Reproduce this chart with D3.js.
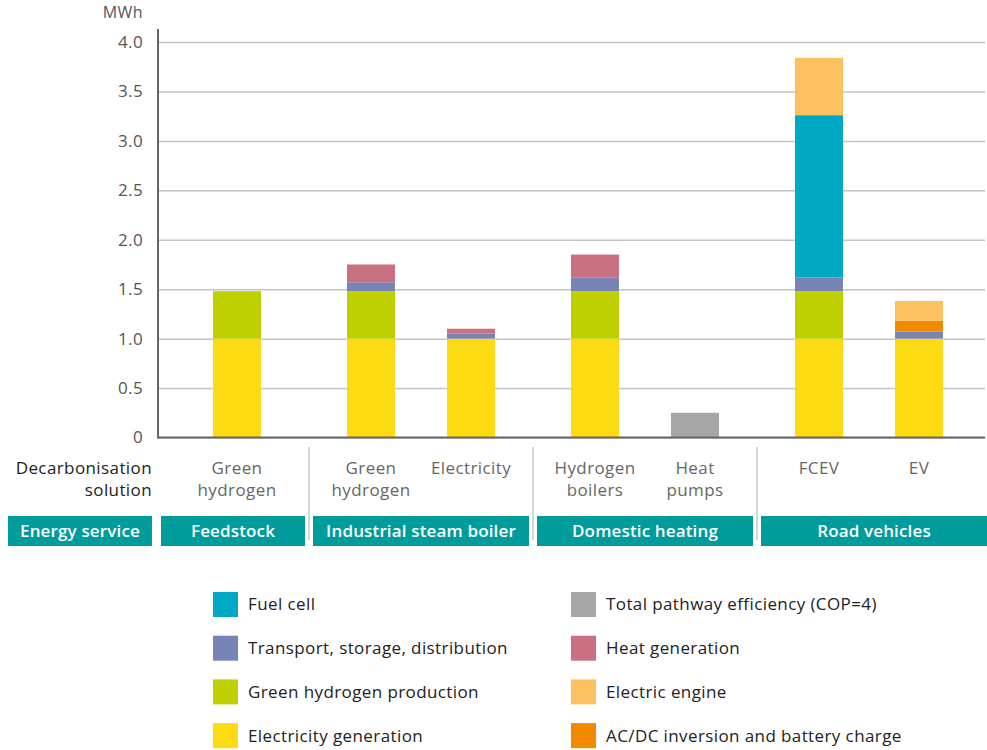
<!DOCTYPE html>
<html>
<head>
<meta charset="utf-8">
<script src="https://cdn.jsdelivr.net/npm/d3@7"></script>
<style>
  body { margin: 0; background: #fff; }
  svg { display: block; font-family: "Open Sans", Lato, sans-serif; }
  svg text { letter-spacing: 0.4px; }
  svg text.box-label { letter-spacing: 0.15px; }
</style>
</head>
<body>
<div id="chart"></div>
<script>
// decarbonisation solutions (one bar each), split onto lines
const solutions = [
  ["Green", "hydrogen"],
  ["Green", "hydrogen"],
  ["Electricity"],
  ["Hydrogen", "boilers"],
  ["Heat", "pumps"],
  ["FCEV"],
  ["EV"]
]
const services = ["Feedstock", "Industrial steam boiler", "Domestic heating", "Road vehicles"]
const serviceOfBar = [0, 1, 1, 2, 2, 3, 3]

// MWh per bar, bottom to top of the stack
const electricityGeneration = [1.0, 1.0, 1.0, 1.0, 0, 1.0, 1.0]
const greenHydrogenProduction = [0.48, 0.48, 0, 0.48, 0, 0.48, 0]
const transportStorage = [0, 0.09, 0.05, 0.14, 0, 0.14, 0.07]
const fuelCell = [0, 0, 0, 0, 0, 1.64, 0]
const acdcInversion = [0, 0, 0, 0, 0, 0, 0.11]
const electricEngine = [0, 0, 0, 0, 0, 0.58, 0.20]
const heatGeneration = [0, 0.18, 0.05, 0.23, 0, 0, 0]
const totalPathway = [0, 0, 0, 0, 0.25, 0, 0]

const yTicks = [0, 0.5, 1.0, 1.5, 2.0, 2.5, 3.0, 3.5, 4.0]

const series = [
  { key: "Electricity generation", values: electricityGeneration, color: "#fddb12" },
  { key: "Green hydrogen production", values: greenHydrogenProduction, color: "#bfd000" },
  { key: "Transport, storage, distribution", values: transportStorage, color: "#7884b6" },
  { key: "Fuel cell", values: fuelCell, color: "#00a9c3" },
  { key: "AC/DC inversion and battery charge", values: acdcInversion, color: "#f28a00" },
  { key: "Electric engine", values: electricEngine, color: "#fcc05f" },
  { key: "Heat generation", values: heatGeneration, color: "#c97180" },
  { key: "Total pathway efficiency (COP=4)", values: totalPathway, color: "#a6a6a6" }
]

const legendLeft = ["Fuel cell", "Transport, storage, distribution", "Green hydrogen production", "Electricity generation"]
const legendRight = ["Total pathway efficiency (COP=4)", "Heat generation", "Electric engine", "AC/DC inversion and battery charge"]

const width = 987, height = 750
const axisX = 158, plotRight = 985
const teal = "#009b9b"
const fontSize = "17px"

const svg = d3.select("#chart").append("svg")
  .attr("width", width)
  .attr("height", height)

const y = d3.scaleLinear().domain([0, 4]).range([437.5, 42])

// group boxes: first column is the row label, then one box per service
const boxes = []
let cursor = 161
services.forEach((s, g) => {
  const bars = d3.range(solutions.length).filter(i => serviceOfBar[i] === g)
  const w = bars.length === 1 ? 144 : bars.length * 100 + 16
  boxes.push({ name: s, x0: cursor, x1: cursor + w, bars })
  cursor += w + 8
})

// bar centres from a point scale per group
const barX = []
boxes.forEach(b => {
  const p = d3.scalePoint().domain(b.bars)
    .range([b.x0 + 8, b.bars.length === 1 ? b.x1 : b.x1 - 8])
    .padding(0.5)
  b.bars.forEach(i => { barX[i] = p(i) })
})
boxes[boxes.length - 1].x1 = width
const barW = 48

// gridlines + ticks
const yAxis = d3.axisLeft(y).tickValues(yTicks)
  .tickSize(-(plotRight - axisX))
  .tickPadding(15)
  .tickFormat(d => d === 0 ? "0" : d3.format(".1f")(d))

const ga = svg.append("g")
  .attr("transform", `translate(${axisX},0)`)
  .call(yAxis)
ga.select(".domain").remove()
ga.selectAll(".tick line").attr("stroke", "#c4c4c4").attr("stroke-width", 1.5)
ga.selectAll(".tick text")
  .attr("fill", "#555")
  .style("font-size", fontSize)
  .style("font-family", "'Open Sans', sans-serif")

svg.append("text")
  .attr("x", 143).attr("y", 18)
  .attr("text-anchor", "end")
  .attr("fill", "#555")
  .style("font-size", "16px")
  .text("MWh")

// stacked bars
const table = solutions.map((s, i) => {
  const row = { i }
  series.forEach(se => { row[se.key] = se.values[i] })
  return row
})
const stacked = d3.stack().keys(series.map(s => s.key))(table)
const colorOf = {}
series.forEach(s => { colorOf[s.key] = s.color })

svg.append("g").selectAll("g")
  .data(stacked)
  .join("g")
    .attr("fill", d => colorOf[d.key])
  .selectAll("rect")
  .data(d => d.filter(p => p[1] - p[0] > 0))
  .join("rect")
    .attr("x", d => barX[d.data.i] - barW / 2)
    .attr("width", barW)
    .attr("y", d => y(d[1]))
    .attr("height", d => y(d[0]) - y(d[1]))

// axes lines
svg.append("line")
  .attr("x1", axisX).attr("x2", axisX)
  .attr("y1", 29).attr("y2", y(0) + 1)
  .attr("stroke", "#666").attr("stroke-width", 2)
svg.append("line")
  .attr("x1", axisX).attr("x2", plotRight)
  .attr("y1", y(0)).attr("y2", y(0))
  .attr("stroke", "#666").attr("stroke-width", 2)

// category labels
const catG = svg.append("g")
  .style("font-size", fontSize)
  .attr("fill", "#666")
  .attr("text-anchor", "middle")
solutions.forEach((lines, i) => {
  const t = catG.append("text").attr("x", barX[i]).attr("y", 474)
  lines.forEach((l, k) => {
    t.append("tspan").attr("x", barX[i]).attr("dy", k === 0 ? 0 : 22).text(l)
  })
})

const rowLabel = svg.append("text")
  .attr("x", 152).attr("y", 474)
  .attr("text-anchor", "end")
  .attr("fill", "#222")
  .style("font-size", fontSize)
rowLabel.append("tspan").attr("x", 152).text("Decarbonisation")
rowLabel.append("tspan").attr("x", 152).attr("dy", 22).text("solution")

// dividers between groups
boxes.slice(1).forEach((b, k) => {
  const xm = (boxes[k].x1 + b.x0) / 2
  svg.append("line")
    .attr("x1", xm).attr("x2", xm)
    .attr("y1", 447).attr("y2", 540)
    .attr("stroke", "#c8c8c8").attr("stroke-width", 1.5)
})

// service boxes
const allBoxes = [{ name: "Energy service", x0: 8, x1: 152 }].concat(boxes)
const bg = svg.append("g").selectAll("g")
  .data(allBoxes)
  .join("g")
bg.append("rect")
  .attr("x", d => d.x0).attr("width", d => d.x1 - d.x0)
  .attr("y", 516).attr("height", 30)
  .attr("fill", teal)
bg.append("text")
  .attr("class", "box-label")
  .attr("x", d => (d.x0 + d.x1) / 2)
  .attr("y", 537)
  .attr("text-anchor", "middle")
  .attr("fill", "#fff")
  .style("font-size", fontSize)
  .style("font-weight", "600")
  .text(d => d.name)

// legend
function legendColumn(keys, x0) {
  const g = svg.append("g")
  keys.forEach((k, r) => {
    const cy = 604.5 + r * 43.7
    g.append("rect")
      .attr("x", x0).attr("y", cy - 12.5)
      .attr("width", 25).attr("height", 25)
      .attr("fill", colorOf[k])
    g.append("text")
      .attr("x", x0 + 35).attr("y", cy)
      .attr("dy", "0.35em")
      .attr("fill", "#222")
      .style("font-size", fontSize)
      .text(k)
  })
}
legendColumn(legendLeft, 213)
legendColumn(legendRight, 571)
</script>
</body>
</html>
